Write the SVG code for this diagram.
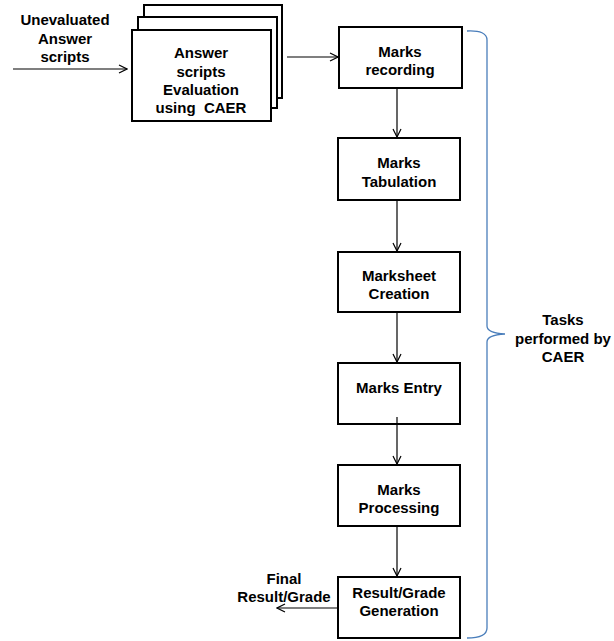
<svg xmlns="http://www.w3.org/2000/svg" width="614" height="641" viewBox="0 0 614 641">
<defs>
<style>
.box{fill:#fff;stroke:#000;stroke-width:2}
.t{font-family:"Liberation Sans",Arial,sans-serif;font-weight:bold;font-size:15px;fill:#000;text-anchor:middle;white-space:pre}
.ln{stroke:#000;stroke-width:1.2;fill:none}
.brace{stroke:#4a7ebb;stroke-width:1.3;fill:none}
</style>
<marker id="ah" viewBox="0 0 10 10" refX="9" refY="5" markerWidth="10" markerHeight="10" markerUnits="userSpaceOnUse" orient="auto">
<path d="M1,1 L9,5 L1,9" fill="none" stroke="#000" stroke-width="1.2"/>
</marker>
</defs>
<rect width="614" height="641" fill="#fff"/>
<g id="input-label">
<text class="t" x="65" y="25">Unevaluated</text>
<text class="t" x="65" y="44">Answer</text>
<text class="t" x="65" y="62">scripts</text>
</g>
<g id="evaluation">
<rect class="box" x="144" y="5" width="138" height="93"/>
<rect class="box" x="138" y="17" width="139" height="91"/>
<rect class="box" x="132" y="30" width="139" height="91"/>
<text class="t" x="201" y="58">Answer</text>
<text class="t" x="201" y="77">scripts</text>
<text class="t" x="201" y="95">Evaluation</text>
<text class="t" x="201" y="113">using  CAER</text>
</g>
<g id="marks-recording">
<rect class="box" x="339" y="27" width="123" height="61"/>
<text class="t" x="400" y="57">Marks</text>
<text class="t" x="400" y="75">recording</text>
</g>
<g id="marks-tabulation">
<rect class="box" x="338" y="138" width="122" height="62"/>
<text class="t" x="399" y="168">Marks</text>
<text class="t" x="399" y="187">Tabulation</text>
</g>
<g id="marksheet-creation">
<rect class="box" x="338" y="252" width="122" height="60"/>
<text class="t" x="399" y="281">Marksheet</text>
<text class="t" x="399" y="299">Creation</text>
</g>
<g id="marks-entry">
<rect class="box" x="338" y="363" width="122" height="61"/>
<text class="t" x="399" y="393">Marks Entry</text>
</g>
<g id="marks-processing">
<rect class="box" x="338" y="465" width="122" height="61"/>
<text class="t" x="399" y="495">Marks</text>
<text class="t" x="399" y="513">Processing</text>
</g>
<g id="result-generation">
<rect class="box" x="338" y="577" width="122" height="61"/>
<text class="t" x="399" y="598">Result/Grade</text>
<text class="t" x="399" y="616">Generation</text>
</g>
<g id="final-label">
<text class="t" x="284" y="584">Final</text>
<text class="t" x="284" y="602">Result/Grade</text>
</g>
<g id="tasks-label">
<text class="t" x="563" y="325">Tasks</text>
<text class="t" x="563" y="344">performed by</text>
<text class="t" x="563" y="362">CAER</text>
</g>
<g id="connectors">
<line class="ln" x1="13" y1="69" x2="127" y2="69" marker-end="url(#ah)"/>
<line class="ln" x1="287" y1="57" x2="338" y2="57" marker-end="url(#ah)"/>
<line class="ln" x1="397" y1="89" x2="397" y2="137" marker-end="url(#ah)"/>
<line class="ln" x1="397" y1="201" x2="397" y2="251" marker-end="url(#ah)"/>
<line class="ln" x1="397" y1="313" x2="397" y2="362" marker-end="url(#ah)"/>
<line class="ln" x1="397" y1="417" x2="397" y2="464" marker-end="url(#ah)"/>
<line class="ln" x1="397" y1="527" x2="397" y2="576" marker-end="url(#ah)"/>
<line class="ln" x1="337" y1="608" x2="277" y2="608" marker-end="url(#ah)"/>
<path class="brace" d="M467,31 Q487,30 487,40 L487,326 Q487,333 505,334 Q487,335 487,342 L487,628 Q487,638 467,638"/>
</g>
</svg>
